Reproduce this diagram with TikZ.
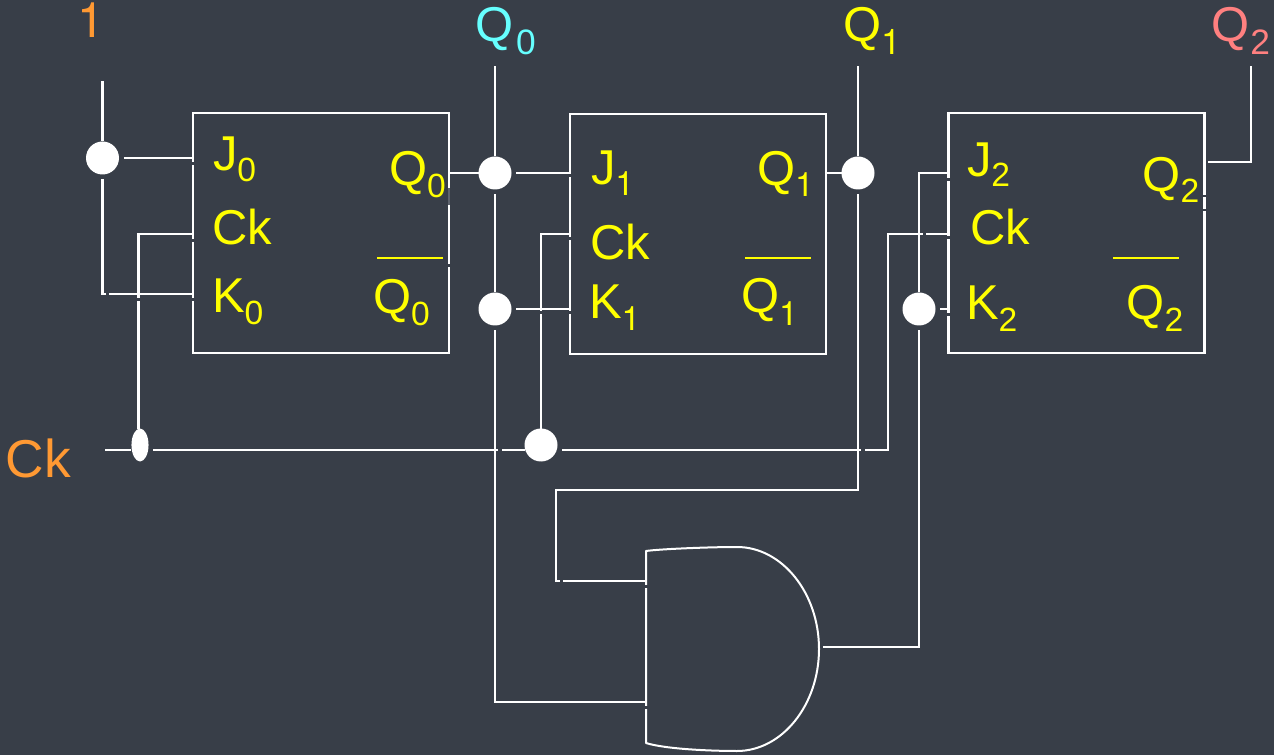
\documentclass[tikz,border=0pt]{standalone}
\usepackage{fontspec}
\setmainfont{Liberation Sans}
\newfontfamily\onefont{TeX Gyre Heros}
\definecolor{bgc}{RGB}{56,62,72}
\definecolor{orangec}{RGB}{255,153,51}
\definecolor{cyanc}{RGB}{102,255,255}
\definecolor{pinkc}{RGB}{255,128,128}
\definecolor{yellowc}{RGB}{255,255,0}
\definecolor{dimc}{RGB}{95,100,110}
\newcommand{\mainsz}{\fontsize{36.7pt}{40pt}\selectfont}
\newcommand{\subsz}{\fontsize{25.2pt}{30pt}\selectfont}
\newcommand{\topsubsz}{\fontsize{26.5pt}{30pt}\selectfont}
% letter, subscript, drop in pt
\newcommand{\subbed}[3]{#1{\subsz\raisebox{-#3pt}{#2}}}
\newcommand{\topsub}[3]{#1\kern#3pt{\topsubsz\raisebox{-9.75pt}{#2}}}
\tikzset{
  x=0.75pt,y=-0.75pt,
  wire/.style={draw=white,line width=1.7pt,line join=miter},
  ffbox/.style={draw=white,line width=1.7pt,rectangle,inner sep=0pt,minimum width=192pt,minimum height=180pt,outer sep=0pt},
  dotn/.style={circle,fill=white,inner sep=0pt,minimum size=24.75pt,outer sep=3.6pt},
  ovaln/.style={ellipse,fill=white,inner sep=0pt,minimum width=12.8pt,minimum height=24.75pt,outer sep=3.6pt},
  lbl/.style={anchor=base west,inner sep=0pt,outer sep=0pt,font=\mainsz,text=yellowc},
  bar/.style={draw=yellowc,line width=1.7pt},
  touch/.style={shorten <=-3.6pt},
  touchend/.style={shorten >=-3.6pt},
  gatep/.style={draw=white,line width=1.5pt,line join=round},
}
\usetikzlibrary{shapes.geometric}
\begin{document}
\begin{tikzpicture}
\useasboundingbox[fill=bgc] (0,0) rectangle (1274,755);

% flip-flops
\node[ffbox] (b0) at (321,233) {};
\node[ffbox] (b1) at (698,234) {};
\node[ffbox] (b2) at (1076.5,233) {};

% dots
\node[dotn] (d1) at (102.5,158) {};
\node[ovaln] (dck0) at (140,445) {};
\node[dotn] (dq0) at (495,173) {};
\node[dotn] (dk1) at (495,309) {};
\node[dotn] (dck1) at (541,445) {};
\node[dotn] (dq1) at (858,173) {};
\node[dotn] (dk2) at (919,309) {};

% free ends and pins
\coordinate (top1) at (102.5,81);
\coordinate (topq0) at (495,66);
\coordinate (topq1) at (858,66);
\coordinate (topq2) at (1251,66);
\coordinate (ckin) at (105,450);
\coordinate (pj0) at (193,158);
\coordinate (pc0) at (193,234);
\coordinate (pk0) at (193,294);
\coordinate (oq0) at (449,173);
\coordinate (pj1) at (570,173);
\coordinate (pc1) at (570,234);
\coordinate (pk1) at (570,309);
\coordinate (oq1) at (827,173);
\coordinate (pj2) at (948,173);
\coordinate (pc2) at (948,234);
\coordinate (pk2) at (950,309);
\coordinate (oq2) at (1208,162);
\coordinate (ga) at (646,581);
\coordinate (gb) at (646,702);
\coordinate (gout) at (823,647);

% AND gate
\draw[gatep] (646,551) .. controls (660,549) and (710,547) .. (737,547)
  .. controls (782,547) and (819,593) .. (819,649)
  .. controls (819,705) and (782,751) .. (737,751)
  .. controls (710,751) and (665,749) .. (646,743) -- cycle;

% wires
\draw[wire,touch] (d1.north) -- (top1);
\draw[wire] (d1.east) -- (pj0);
\draw[wire] (d1.south) |- (pk0);
\draw[wire,touch] (dck0.north -| 138.5,0) |- (pc0);
\draw[wire,touchend] (ckin) -- (dck0.west |- ckin);
\draw[wire,touchend] (dck0.east |- ckin) -- (dck1.west |- ckin);
\draw[wire] (dck1.east |- ckin) -| (888,234) -- (pc2);
\draw[wire,touch] (dq0.north) -- (topq0);
\draw[wire,touchend] (oq0) -- (dq0.west);
\draw[wire] (dq0.east) -- (pj1);
\draw[wire,touchend] (dq0.south) -- (dk1.north);
\draw[wire] (dk1.east) -- (pk1);
\draw[wire] (dk1.south) |- (gb);
\draw[wire,touch] (dck1.north) |- (pc1);
\draw[wire,touch] (dq1.north) -- (topq1);
\draw[wire,touchend] (oq1) -- (dq1.west);
\draw[wire] (dq1.south) -- (858,490) -| (556,581) -- (ga);
\draw[wire,touch] (dk2.north) |- (pj2);
\draw[wire] (dk2.east) -- (pk2);
\draw[wire] (dk2.south) |- (gout);
\draw[wire] (oq2) -| (topq2);

% small breaks in the lines
\foreach \cx/\cy/\w/\h in {
  193/164/5/3, 193/241/5/3, 193/300/5/3, 449/266/5/3,
  570/176/5/3, 570/239/5/3, 570/313/5/3,
  948/180/5/3, 948/238/5/3, 948/315/5/3, 1205/196/5/2, 1205/210/5/2,
  646/586/5/3, 646/707/5/3,
  107/294/3/5, 138.5/300/5/3, 500/450/4/5, 541/313/5/3,
  863/450/4/5, 924.5/234/3/5, 561/581/3/5}
  \fill[bgc] (\cx-\w/2,\cy-\h/2) rectangle (\cx+\w/2,\cy+\h/2);
\fill[dimc] (447.8,188) rectangle (450.2,205);

% overbars
\coordinate (bar0a) at (377,258); \coordinate (bar0b) at (443,258);
\coordinate (bar1a) at (745,258); \coordinate (bar1b) at (811,258);
\coordinate (bar2a) at (1113,258); \coordinate (bar2b) at (1179,258);
\draw[bar] (bar0a) -- (bar0b);
\draw[bar] (bar1a) -- (bar1b);
\draw[bar] (bar2a) -- (bar2b);

% outside labels
\node[lbl,text=orangec] (one) at (77,38) {\onefont 1};
\node[lbl,text=cyanc] (tq0) at (475,42) {\topsub{Q}{0}{2.2}};
\node[lbl] (tq1) at (843,42) {\topsub{Q}{\onefont 1}{0}};
\node[lbl,text=pinkc] (tq2) at (1211,42) {\topsub{Q}{2}{1}};
\node[lbl,text=orangec,font=\fontsize{40pt}{44pt}\selectfont] (tck) at (5.5,477) {Ck};

% flip-flop 0
\node[lbl] (j0) at (213,171) {\subbed{J}{0}{8.25}};
\node[lbl] (c0) at (212,245) {Ck};
\node[lbl] (k0) at (212,313) {\subbed{K}{0}{9}};
\node[lbl] (q0) at (389,186) {\subbed{Q}{0}{9}};
\node[lbl] (n0) at (373,314) {\subbed{Q}{0}{9}};
% flip-flop 1
\node[lbl] (j1) at (591,185) {\subbed{J}{\onefont 1}{8.25}};
\node[lbl] (c1) at (590,260) {Ck};
\node[lbl] (k1) at (589,319) {\subbed{K}{\onefont 1}{9}};
\node[lbl] (q1) at (757,186) {\subbed{Q}{\onefont 1}{8.25}};
\node[lbl] (n1) at (741,313) {\subbed{Q}{\onefont 1}{9.75}};
% flip-flop 2
\node[lbl] (j2) at (967,177) {\subbed{J}{2}{7.5}};
\node[lbl] (c2) at (970.5,245) {Ck};
\node[lbl] (k2) at (966,320) {\subbed{K}{2}{9}};
\node[lbl] (q2) at (1142.5,192) {\subbed{Q}{2}{8.25}};
\node[lbl] (n2) at (1126.5,320) {\subbed{Q}{2}{9}};
\end{tikzpicture}
\end{document}
